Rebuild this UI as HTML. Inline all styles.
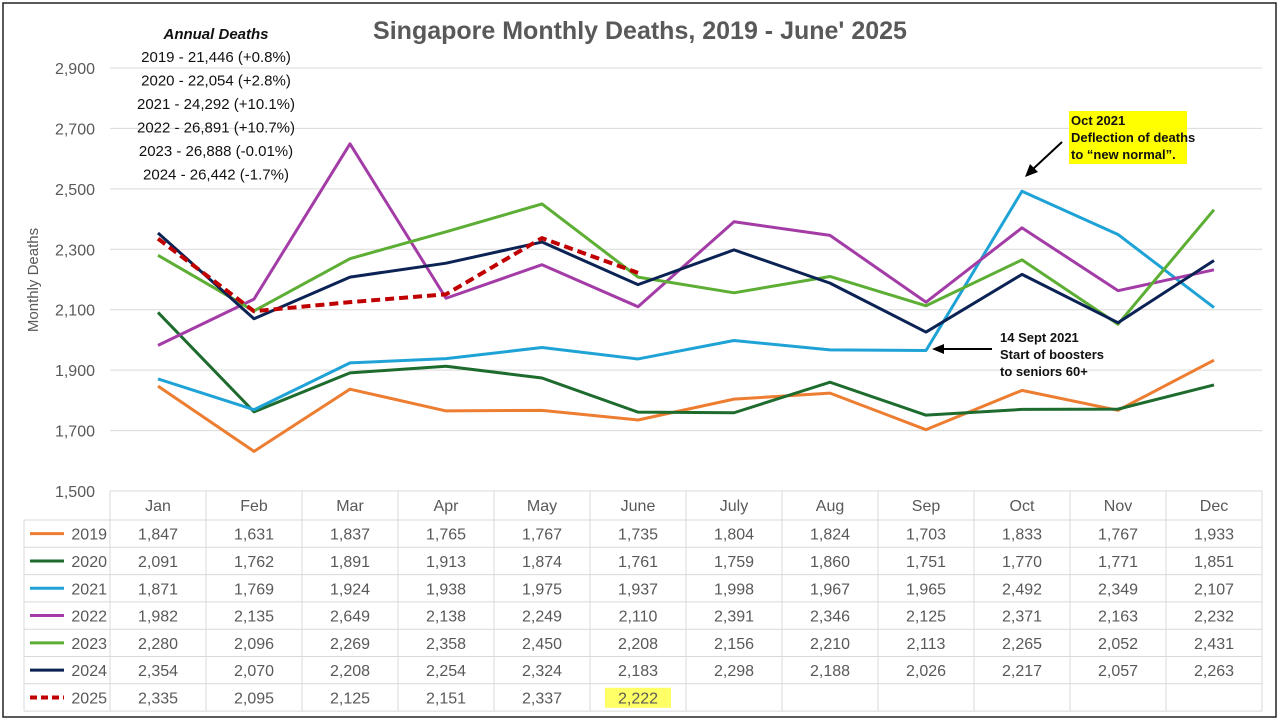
<!DOCTYPE html>
<html><head><meta charset="utf-8"><style>
html,body{margin:0;padding:0;background:#fff;width:1280px;height:720px;overflow:hidden}
svg{display:block;font-family:"Liberation Sans",sans-serif}
</style></head><body>
<svg id="c" width="1280" height="720"></svg>
<script>
const months=["Jan","Feb","Mar","Apr","May","June","July","Aug","Sep","Oct","Nov","Dec"];
const years=["2019","2020","2021","2022","2023","2024","2025"];
const s2019=[1847,1631,1837,1765,1767,1735,1804,1824,1703,1833,1767,1933];
const s2020=[2091,1762,1891,1913,1874,1761,1759,1860,1751,1770,1771,1851];
const s2021=[1871,1769,1924,1938,1975,1937,1998,1967,1965,2492,2349,2107];
const s2022=[1982,2135,2649,2138,2249,2110,2391,2346,2125,2371,2163,2232];
const s2023=[2280,2096,2269,2358,2450,2208,2156,2210,2113,2265,2052,2431];
const s2024=[2354,2070,2208,2254,2324,2183,2298,2188,2026,2217,2057,2263];
const s2025=[2335,2095,2125,2151,2337,2222];
const yTicks=[1500,1700,1900,2100,2300,2500,2700,2900];
const series=[s2019,s2020,s2021,s2022,s2023,s2024,s2025];
const colors=["#ED7D31","#1E6B2E","#1FA3D6","#A33CA6","#5DAE34","#0B2254","#C00000"];
const NS="http://www.w3.org/2000/svg";
const svg=document.getElementById('c');
function el(t,a,txt){const e=document.createElementNS(NS,t);for(const k in a)e.setAttribute(k,a[k]);if(txt!==undefined)e.textContent=txt;svg.appendChild(e);return e;}
const L=110,R=1262,colW=(R-L)/12;
const x=i=>L+colW*(i+0.5);
const y=v=>491-(v-1500)*(491-68)/1400;
let f=el('rect',{x:3,y:3,width:1273,height:714,fill:'none',stroke:'#222','stroke-width':1.5});

yTicks.forEach(v=>{
 if(v>1500){let g=el('line',{x1:L,x2:R,y1:y(v),y2:y(v),stroke:'#d9d9d9'});
 }
 let t=el('text',{x:95,y:y(v)+6,'text-anchor':'end','font-size':16,fill:'#595959'},v.toLocaleString('en-US'));
 
});
let tt=el('text',{x:640,y:39,'text-anchor':'middle','font-size':25,'font-weight':'bold',fill:'#595959'},"Singapore Monthly Deaths, 2019 - June' 2025");

let yt=el('text',{x:38,y:280,'text-anchor':'middle','font-size':15,fill:'#595959',transform:'rotate(-90 38 280)'},"Monthly Deaths");

series.forEach((s,k)=>{
 const pts=s.map((v,i)=>x(i)+','+y(v)).join(' ');
 const a={points:pts,fill:'none',stroke:colors[k],'stroke-width':k==6?4:3,'stroke-linejoin':'round'};
 if(k==6)a['stroke-dasharray']='9,5';
 let p=el('polyline',a);
 
});
const tTop=491,hh=29,rh=27.3,tl=24;
const tb=tTop+hh+rh*7;
el('line',{x1:L,x2:R,y1:tTop,y2:tTop,stroke:'#d9d9d9'});
for(let r=0;r<=7;r++){const yy=tTop+hh+rh*r;el('line',{x1:tl,x2:R,y1:yy,y2:yy,stroke:'#d9d9d9'});}
for(let c=0;c<=12;c++){el('line',{x1:L+colW*c,x2:L+colW*c,y1:tTop,y2:tb,stroke:'#d9d9d9'});}
el('line',{x1:tl,x2:tl,y1:tTop+hh,y2:tb,stroke:'#d9d9d9'});
let hl=el('rect',{x:x(5)-33,y:tTop+hh+rh*6+4,width:66,height:20,fill:'#FFFF66'});

months.forEach((m,i)=>{let t=el('text',{x:x(i),y:tTop+20,'text-anchor':'middle','font-size':16,fill:'#595959'},m);
 });
series.forEach((s,k)=>{
 const ry=tTop+hh+rh*k+rh/2+6;
 const la={x1:30,x2:64,y1:ry-6,y2:ry-6,stroke:colors[k],'stroke-width':3};
 if(k==6){la['stroke-dasharray']='7,4';la['stroke-width']=4;}
 let ln=el('line',la);
 let lt=el('text',{x:107,y:ry,'text-anchor':'end','font-size':16,fill:'#595959'},years[k]);
 
 s.forEach((v,i)=>{let t=el('text',{x:x(i),y:ry,'text-anchor':'middle','font-size':16,fill:'#595959'},v.toLocaleString('en-US'));
  });
});
const ann=["2019 - 21,446 (+0.8%)","2020 - 22,054 (+2.8%)","2021 - 24,292 (+10.1%)","2022 - 26,891 (+10.7%)","2023 - 26,888 (-0.01%)","2024 - 26,442 (-1.7%)"];
let ah=el('text',{x:216,y:39,'text-anchor':'middle','font-size':15,'font-weight':'bold','font-style':'italic',fill:'#111'},"Annual Deaths");

ann.forEach((a,i)=>{let t=el('text',{x:216,y:62+i*23.5,'text-anchor':'middle','font-size':15,fill:'#111'},a);
 });
let yb=el('rect',{x:1069,y:111,width:118,height:53,fill:'#FFFF00'});

["Oct 2021","Deflection of deaths","to \u201cnew normal\u201d."].forEach((s,i)=>{let t=el('text',{x:1071,y:125+i*17,'font-size':13,'font-weight':'bold',fill:'#111'},s);
 });
el('line',{x1:1062,y1:142,x2:1033,y2:169,stroke:'#000','stroke-width':2});
el('polygon',{points:'1025,177 1030,164 1038,172',fill:'#000'});
["14 Sept 2021","Start of boosters","to seniors 60+"].forEach((s,i)=>{let t=el('text',{x:1000,y:342+i*17,'font-size':13,'font-weight':'bold',fill:'#111'},s);
 });
el('line',{x1:992,y1:349,x2:942,y2:349,stroke:'#000','stroke-width':2});
el('polygon',{points:'932,349 944,344 944,354',fill:'#000'});
</script>
</body></html>
